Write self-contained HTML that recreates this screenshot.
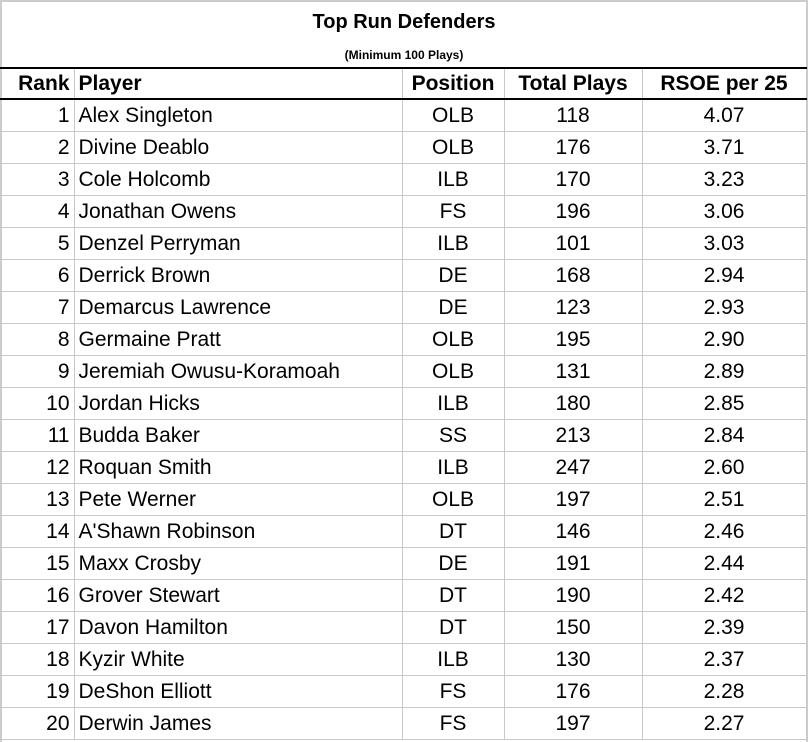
<!DOCTYPE html>
<html><head><meta charset="utf-8"><style>
body{margin:0;width:808px;height:740px;background:#fff;font-family:"Liberation Sans",Arial,sans-serif;overflow:hidden;position:relative}
#frame{position:absolute;left:0;top:0;width:804px;height:740px;border-left:2px solid #ccc;border-top:2px solid #ccc;border-right:2px solid #ccc}
#title{position:absolute;top:11px;left:0;width:808px;text-align:center;font-weight:bold;font-size:20px}
#sub{position:absolute;top:48px;left:0;width:808px;text-align:center;font-weight:bold;font-size:12px}
table{position:absolute;left:0;top:67px;border-collapse:collapse;font-size:21px;table-layout:fixed;width:806px}
td,th{height:31px;padding:0 4px;border:1px solid #c8c8c8;white-space:nowrap;line-height:31px}
th{font-weight:bold;border-top:2px solid #000;border-bottom:2px solid #000;height:29px;line-height:29px;padding-top:0;padding-bottom:0}
tr td:first-child,tr th:first-child{border-left:none}
.r{text-align:right}.c{text-align:center}.l{text-align:left}
</style></head><body>
<div id="frame"></div>
<div id="title">Top Run Defenders</div>
<div id="sub">(Minimum 100 Plays)</div>
<table>
<colgroup><col style="width:74px"><col style="width:328px"><col style="width:102px"><col style="width:138px"><col style="width:164px"></colgroup>
<thead><tr style="height:31px">
<th class="r">Rank</th>
<th class="l">Player</th>
<th class="c">Position</th>
<th class="c">Total Plays</th>
<th class="c">RSOE per 25</th>
</tr></thead>
<tbody id="tb"></tbody>
</table>
<script>
const players=["Alex Singleton","Divine Deablo","Cole Holcomb","Jonathan Owens","Denzel Perryman","Derrick Brown","Demarcus Lawrence","Germaine Pratt","Jeremiah Owusu-Koramoah","Jordan Hicks","Budda Baker","Roquan Smith","Pete Werner","A'Shawn Robinson","Maxx Crosby","Grover Stewart","Davon Hamilton","Kyzir White","DeShon Elliott","Derwin James"];
const positions=["OLB","OLB","ILB","FS","ILB","DE","DE","OLB","OLB","ILB","SS","ILB","OLB","DT","DE","DT","DT","ILB","FS","FS"];
const plays=[118,176,170,196,101,168,123,195,131,180,213,247,197,146,191,190,150,130,176,197];
const rsoe=["4.07","3.71","3.23","3.06","3.03","2.94","2.93","2.90","2.89","2.85","2.84","2.60","2.51","2.46","2.44","2.42","2.39","2.37","2.28","2.27"];
const tb=document.getElementById('tb');
players.forEach((p,i)=>{
const tr=document.createElement('tr');


const vals=[[i+1,'r','rank-cell'],[p,'l','player-cell'],[positions[i],'c','position-cell'],[plays[i],'c','plays-cell'],[rsoe[i],'c','rsoe-cell']];
vals.forEach(v=>{const td=document.createElement('td');td.className=v[1];td.textContent=v[0];


tr.appendChild(td);});
tb.appendChild(tr);
});
</script>
</body></html>
